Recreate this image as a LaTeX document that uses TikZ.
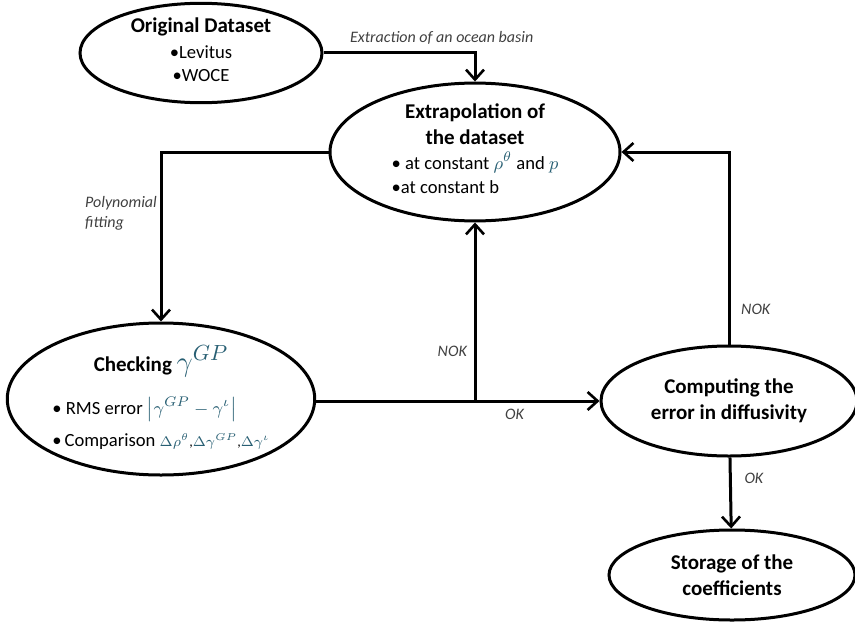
\documentclass[tikz,border=0pt]{standalone}
\usepackage{fontspec}
\setmainfont{Carlito}
\usetikzlibrary{shapes.geometric,arrows.meta,positioning}
\definecolor{mathblue}{RGB}{40,95,115}
\definecolor{labelgray}{RGB}{64,64,64}
\tikzset{
  blob/.style={ellipse, draw, line width=1.5pt, inner sep=0pt, align=center,
    font=\fontsize{10.5}{13}\selectfont},
  flow/.style={line width=1.5pt, -{Straight Barb[length=5pt,width=9pt,line width=1.3pt]}},
  tag/.style={font=\fontsize{8}{10}\selectfont\itshape, text=labelgray},
}
\begin{document}
\begin{tikzpicture}[x=0.5pt, y=-0.5pt]
\useasboundingbox (0,0) rectangle (855,626);

\node (orig) [blob, minimum width=121pt, minimum height=45pt] at (201,53)
  {\textbf{Original Dataset}\\[2pt]
   {\fontsize{9.3}{11.5}\selectfont\begin{tabular}{@{}c@{}}
     \textbullet Levitus\\ \textbullet WOCE\end{tabular}}};
\node (extra) [blob, minimum width=145pt, minimum height=56pt] at (475,152)
  {\textbf{Extrapolation of}\\ \textbf{the dataset}\\[3pt]
   {\fontsize{9.3}{12}\selectfont\begin{tabular}{@{}l@{}}
     \textbullet\ at constant $\color{mathblue}\rho^{\theta}$ and $\color{mathblue}p$\\
     \textbullet at constant b\end{tabular}}};
\node (check) [blob, minimum width=149pt, minimum height=76pt] at (161,399)
  {\textbf{Checking} {\fontsize{15}{15}\selectfont$\color{mathblue}\gamma^{GP}$}\\[9pt]
   {\fontsize{9.3}{10}\selectfont\begin{tabular}{@{}l@{}}
     \textbullet\ RMS error $\color{mathblue}\big|\gamma^{GP}-\gamma^{\iota}\big|$\\[6pt]
     \textbullet\,Comparison {\fontsize{7}{8}\selectfont$\color{mathblue}\Delta\rho^{\theta}$,$\color{mathblue}\Delta\gamma^{GP}$,$\color{mathblue}\Delta\gamma^{\iota}$}
   \end{tabular}}};
\node (comp) [blob, minimum width=128pt, minimum height=55pt] at (729,401)
  {\textbf{Computing the}\\ \textbf{error in diffusivity}};
\node (store) [blob, minimum width=123pt, minimum height=45pt] at (732,575)
  {\textbf{Storage of the}\\ \textbf{coefficients}};

\coordinate (split) at (extra.south |- comp.west);

\draw [flow] (orig.east) -| (extra.north)
  node [tag, pos=0.39, above] {Extraction of an ocean basin};
\draw [flow] (extra.west) -| (check.north)
  node [tag, pos=0.68, left, align=left, xshift=2pt] {Polynomial\\fitting};
\draw [flow] (check.east |- comp.west) -- (comp.west) node [tag, pos=0.7, below] {OK};
\draw [flow] (split) -- (extra.south) node [tag, pos=0.28, left] {NOK};
\draw [flow] (comp.north) |- (extra.east) node [tag, pos=0.09, right, xshift=2pt] {NOK};
\path [flow] (comp) edge node [tag, right, pos=0.3, xshift=3pt] {OK} (store);
\end{tikzpicture}
\end{document}
